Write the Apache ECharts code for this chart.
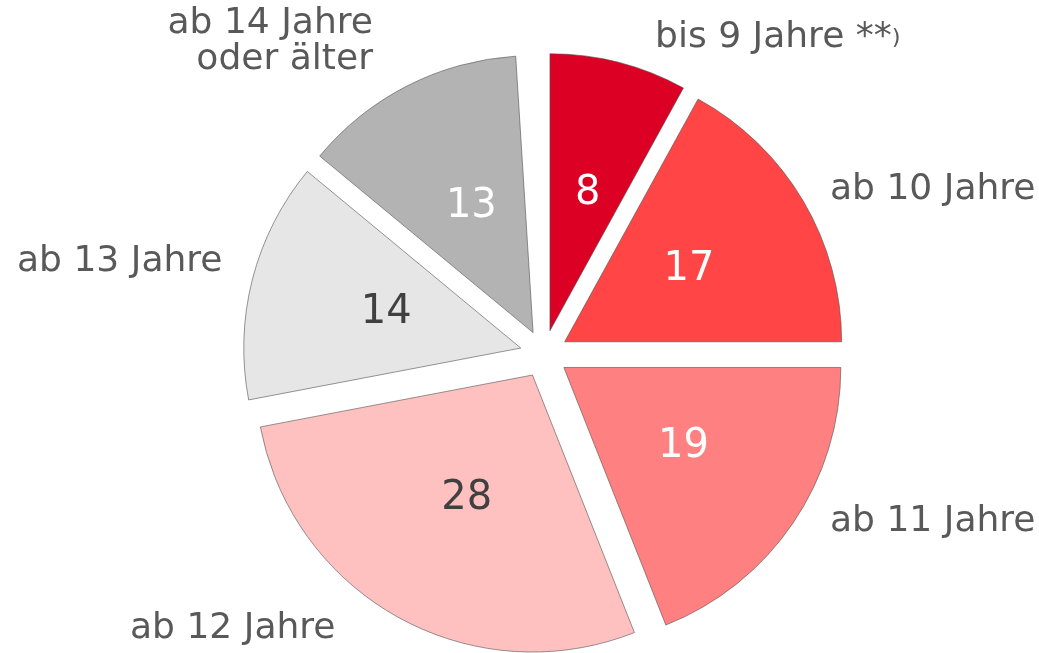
<!DOCTYPE html>
<html>
<head>
<meta charset="utf-8">
<script src="https://cdn.jsdelivr.net/npm/echarts@6/dist/echarts.min.js"></script>
<style>
html,body{margin:0;padding:0;background:#fff;}
#chart{width:1039px;height:653px;}
</style>
</head>
<body>
<div id="chart"></div>
<script>
const categories = ['bis 9 Jahre **)', 'ab 10 Jahre', 'ab 11 Jahre', 'ab 12 Jahre', 'ab 13 Jahre', 'ab 14 Jahre\noder älter', ''];
const values = [8, 17, 19, 28, 14, 13, 1];
const sliceColors = ['#DD0025', '#FF4545', '#FF8080', '#FFC0C0', '#E6E6E6', '#B3B3B3', 'rgba(0,0,0,0)'];
const valueLabelColors = ['#ffffff', '#ffffff', '#ffffff', '#404040', '#404040', '#ffffff', 'rgba(0,0,0,0)'];
// outer label anchors (text placement only)
const outerLabelAnchors = [
  {x: 655, y: 38, align: 'left'},
  {x: 830, y: 190, align: 'left'},
  {x: 830, y: 522, align: 'left'},
  {x: 130, y: 629, align: 'left'},
  {x: 17, y: 262, align: 'left'},
  {x: 373, y: 42, align: 'right'},
  null
];

const FONT = '"DejaVu Sans", Verdana, sans-serif';
const isBlank = i => categories[i] === '';

const center = [544, 354];
const radius = 277;
const offset = 24;

const sliceData = categories.map((name, i) => ({
  name: name,
  value: values[i],
  selected: true,
  itemStyle: {
    color: sliceColors[i],
    borderColor: isBlank(i) ? 'rgba(0,0,0,0)' : '#505050',
    borderWidth: isBlank(i) ? 0 : 0.6
  },
  label: {
    show: !isBlank(i),
    color: valueLabelColors[i]
  }
}));

const outerLabels = categories.map((name, i) => {
  const a = outerLabelAnchors[i];
  if (!a || !name) return null;
  const text = name.endsWith(')') ? name.slice(0, -1) + '{s|)}' : name;
  return {
    type: 'text',
    silent: true,
    z: 10,
    x: a.x,
    y: a.y,
    scaleX: 1.03,
    style: {
      text: text,
      x: 0,
      y: 0,
      align: a.align,
      verticalAlign: 'middle',
      fill: '#595959',
      fontSize: 35,
      lineHeight: 36,
      fontFamily: FONT,
      rich: {
        s: {fontSize: 22, fill: '#595959', fontFamily: FONT}
      }
    }
  };
}).filter(Boolean);

const chart = echarts.init(document.getElementById('chart'), null, {renderer: 'canvas'});
chart.setOption({
  animation: false,
  backgroundColor: '#ffffff',
  graphic: outerLabels,
  series: [
    {
      type: 'pie',
      center: center,
      radius: radius,
      startAngle: 90,
      clockwise: true,
      selectedMode: 'multiple',
      selectedOffset: offset,
      silent: true,
      label: {
        position: 'inside',
        formatter: '{c}',
        fontSize: 40,
        padding: [20, 0, 0, 5],
        fontFamily: FONT
      },
      labelLine: {show: false},
      select: {itemStyle: {}},
      data: sliceData
    }
  ]
});
</script>
</body>
</html>
